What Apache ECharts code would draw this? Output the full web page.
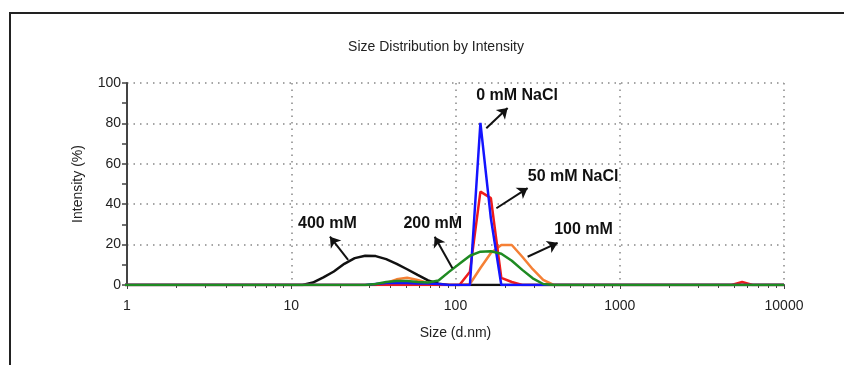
<!DOCTYPE html>
<html>
<head>
<meta charset="utf-8">
<script src="https://cdn.jsdelivr.net/npm/echarts@6/dist/echarts.min.js"></script>
<style>
html,body{margin:0;padding:0;background:#fff;}
#chart{width:844px;height:365px;}
</style>
</head>
<body>
<div id="chart"></div>
<script>
// Size bins (d.nm)
var sizes = [0.9649,1.117,1.294,1.499,1.736,2.01,2.328,2.696,3.122,3.615,4.187,4.849,5.615,6.503,7.531,8.721,
  10.1,11.7,13.54,15.69,18.17,21.04,24.36,28.21,32.67,37.84,43.82,50.75,58.77,68.06,78.82,91.28,
  105.7,122.4,141.8,164.2,190.1,220.2,255.0,295.3,342.0,396.1,458.7,531.2,615.1,712.4,825.0,955.4,
  1106,1281,1484,1718,1990,2305,2669,3091,3580,4145,4801,5560,6439,7456,8635,10000];

// Intensity (%) per bin
var mM400 = [0,0,0,0,0,0,0,0,0,0,0,0,0,0,0,0,
  0,0,1.2,3.8,6.7,10.5,13.3,14.5,14.3,12.8,10.5,7.8,5.0,2.3,0.6,0,
  0,0,0,0,0,0,0,0,0,0,0,0,0,0,0,0,
  0,0,0,0,0,0,0,0,0,0,0,0,0,0,0,0];
var mM100 = [0,0,0,0,0,0,0,0,0,0,0,0,0,0,0,0,
  0,0,0,0,0,0,0,0,0,1.0,2.8,3.6,2.5,1.0,0,0,
  0,0.5,8.4,15.8,19.8,19.8,14.0,7.8,2.5,0,0,0,0,0,0,0,
  0,0,0,0,0,0,0,0,0,0,0,0,0,0,0,0];
var mM50 = [0,0,0,0,0,0,0,0,0,0,0,0,0,0,0,0,
  0,0,0,0,0,0,0,0,0,0,0,0,0,0,0,0,
  0,6.6,46.2,43.0,3.5,1.5,0,0,0,0,0,0,0,0,0,0,
  0,0,0,0,0,0,0,0,0,0,0,1.5,0,0,0,0];
var mM0 = [0,0,0,0,0,0,0,0,0,0,0,0,0,0,0,0,
  0,0,0,0,0,0,0,0,0.5,1.0,1.0,1.0,0.8,0.8,0.5,0,
  0,0,80.3,33.0,0,0,0,0,0,0,0,0,0,0,0,0,
  0,0,0,0,0,0,0,0,0,0,0,0,0,0,0,0];
var mM200 = [0,0,0,0,0,0,0,0,0,0,0,0,0,0,0,0,
  0,0,0,0,0,0,0,0,0.5,1.5,2.0,2.0,1.5,1.2,2.2,6.5,
  10.5,14.5,16.5,16.7,15.5,12.0,7.5,3.3,0.5,0,0,0,0,0,0,0,
  0,0,0,0,0,0,0,0,0,0,0,0,0,0,0,0];

var xTickLabels = [1,10,100,1000,10000];
var yTickLabels = [0,20,40,60,80,100];
var xMinorTicks = [2,3,4,5,6,7,8,9,20,30,40,50,60,70,80,90,200,300,400,500,600,700,800,900,
  2000,3000,4000,5000,6000,7000,8000,9000];

// Annotations: label text at [size, intensity]; arrows from [size,intensity] to [size,intensity]
var annLabels = [
  {name:'0 mM NaCl', at:[237,94]},
  {name:'50 mM NaCl', at:[520,53.6]},
  {name:'100 mM', at:[602,27.2]},
  {name:'200 mM', at:[72.7,30.5]},
  {name:'400 mM', at:[16.6,30.5]}
];
var annArrows = [
  [[154,77.6],[207.7,87.6]],
  [[177.4,38],[274.9,48]],
  [[274.9,14],[418.5,20.9]],
  [[95.8,8.3],[74.7,23.9]],
  [[22.2,12.4],[17.2,23.9]]
];

function pairs(vals){ return sizes.map(function(s,i){ return [s, vals[i]]; }); }

var FONT = "'Liberation Sans', Arial, sans-serif";
var chart = echarts.init(document.getElementById('chart'), null, {renderer:'canvas'});

function lineSeries(name, vals, color){
  return {name:name, type:'line', data:pairs(vals), showSymbol:false, symbol:'none',
    lineStyle:{color:color, width:2.5}, itemStyle:{color:color}, clip:true, animation:false};
}

var series = [
  lineSeries('400 mM', mM400, '#111111'),
  lineSeries('100 mM', mM100, '#f58035'),
  lineSeries('50 mM NaCl', mM50, '#ee1c1c'),
  lineSeries('0 mM NaCl', mM0, '#1414ff'),
  lineSeries('200 mM', mM200, '#1f8a22'),
  {
    name:'annotations', type:'line', data:[], animation:false,
    markLine:{
      silent:true, animation:false, symbol:['none','arrow'], symbolSize:10,
      lineStyle:{color:'#111', width:2, type:'solid'}, itemStyle:{color:'#111'}, label:{show:false},
      data: annArrows.map(function(a){ return [{coord:a[0]},{coord:a[1]}]; })
    },
    markPoint:{
      silent:true, animation:false, symbol:'circle', symbolSize:1,
      itemStyle:{color:'rgba(0,0,0,0)'},
      label:{show:true, position:'inside', formatter:'{b}', color:'#111', fontSize:16,
        fontWeight:'bold', fontFamily:FONT},
      data: annLabels.map(function(l){ return {name:l.name, coord:l.at}; })
    }
  }
];

chart.setOption({
  animation:false,
  backgroundColor:'#ffffff',
  title:{text:'Size Distribution by Intensity', left:431, top:35, textAlign:'center',
    textStyle:{fontSize:14, fontWeight:'normal', color:'#222', fontFamily:FONT}},
  grid:{left:127, right:60, top:83, bottom:80, containLabel:false},
  xAxis:[{
    type:'log', logBase:10, min:1, max:10000,
    name:'Size (d.nm)', nameLocation:'middle', nameGap:41,
    nameTextStyle:{fontSize:14, color:'#222', fontFamily:FONT},
    axisLine:{show:true, lineStyle:{color:'#444', width:2}},
    axisTick:{show:true, length:4, lineStyle:{color:'#444', width:1}},
    axisLabel:{customValues:xTickLabels, fontSize:14, color:'#222', margin:14, fontFamily:FONT,
      formatter:function(v){ return String(v); }},
    splitLine:{show:true, lineStyle:{color:'#888', width:1.5, type:[1.5,5]}}
  },{
    type:'log', logBase:10, min:1, max:10000, position:'bottom', offset:0,
    axisLine:{show:false},
    axisTick:{show:true, length:3, customValues:xMinorTicks, lineStyle:{color:'#444', width:1}},
    axisLabel:{show:false},
    splitLine:{show:false}
  }],
  yAxis:{
    type:'value', min:0, max:100, interval:20,
    name:'Intensity (%)', nameLocation:'middle', nameGap:42,
    nameTextStyle:{fontSize:14, color:'#222', fontFamily:FONT},
    axisLine:{show:true, lineStyle:{color:'#444', width:2}},
    axisTick:{show:true, length:5, lineStyle:{color:'#444', width:1.5}},
    minorTick:{show:true, splitNumber:2, length:5, lineStyle:{color:'#444', width:1.5}},
    axisLabel:{customValues:yTickLabels, fontSize:14, color:'#222', margin:6, fontFamily:FONT},
    splitLine:{show:true, lineStyle:{color:'#888', width:1.5, type:[1.5,5]}}
  },
  graphic:[{
    type:'rect', silent:true, z:100,
    shape:{x:10, y:13, width:900, height:400},
    style:{fill:'none', stroke:'#222', lineWidth:2}
  }],
  series:series
});
</script>
</body>
</html>
